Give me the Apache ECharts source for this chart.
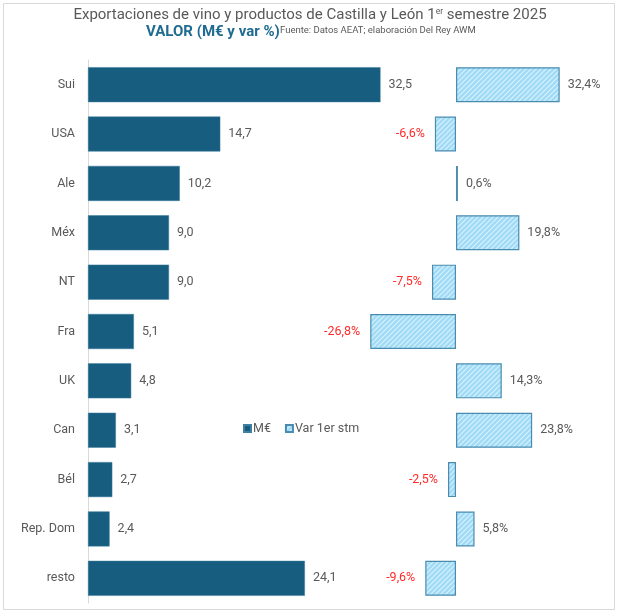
<!DOCTYPE html>
<html>
<head>
<meta charset="utf-8">
<script src="https://cdn.jsdelivr.net/npm/echarts@6/dist/echarts.min.js"></script>
<style>
html,body{margin:0;padding:0;background:#fff;}
#c{width:620px;height:614px;}
</style>
</head>
<body>
<div id="c"></div>
<script>
var categories = ['Sui','USA','Ale','Méx','NT','Fra','UK','Can','Bél','Rep. Dom','resto'];
var valorMEUR = [32.5,14.7,10.2,9.0,9.0,5.1,4.8,3.1,2.7,2.4,24.1];
var varPct = [32.4,-6.6,0.6,19.8,-7.5,-26.8,14.3,23.8,-2.5,5.8,-9.6];

var FONT = 'Roboto, "Open Sans", sans-serif';
var GRAY = '#595959';

function makePattern(){
  var s = 5;
  var cv = document.createElement('canvas');
  cv.width = s; cv.height = s;
  var ctx = cv.getContext('2d');
  ctx.fillStyle = '#9fdbf7';
  ctx.fillRect(0,0,s,s);
  ctx.strokeStyle = 'rgba(255,255,255,0.6)';
  ctx.lineWidth = 1.2;
  ctx.beginPath();
  ctx.moveTo(-1, s+1); ctx.lineTo(s+1, -1);
  ctx.moveTo(-s-1, s+1); ctx.lineTo(1, -1);
  ctx.moveTo(-1, 2*s+1); ctx.lineTo(s+1, s-1);
  ctx.moveTo(-s/2-1, s/2+1); ctx.lineTo(s/2+1, -s/2-1);
  ctx.moveTo(s/2-1, s*1.5+1); ctx.lineTo(s*1.5+1, s/2-1);
  ctx.stroke();
  return cv;
}
var pattern = {image: makePattern(), repeat: 'repeat'};

function fmt(v){ return v.toFixed(1).replace('.', ','); }

var varData = varPct.map(function(v){
  return {
    value: v,
    label: {
      position: v >= 0 ? 'right' : 'left',
      distance: v >= 0 ? 8 : 10,
      color: v >= 0 ? GRAY : '#ff2a2a'
    }
  };
});

var chart = echarts.init(document.getElementById('c'));
chart.setOption({
  animation: false,
  textStyle: {fontFamily: FONT},
  graphic: [
    {type:'rect', shape:{x:3.5,y:3.5,width:611,height:606}, style:{fill:'none', stroke:'#d9d9d9', lineWidth:1}, silent:true, z:-1},
    {type:'text', left:'center', top:7, style:{
      text:'Exportaciones de vino y productos de Castilla y León 1{sup|er} semestre 2025',
      rich:{sup:{fontSize:8.5, fill:GRAY, padding:[0,0,8,0], fontFamily:FONT}},
      font:'15px ' + FONT, fill:GRAY}},
    {type:'text', left:146, top:25, style:{text:'VALOR (M€ y var %)', font:'bold 15px ' + FONT, fill:'#1f6b91'}},
    {type:'text', left:280, top:26, style:{text:'Fuente: Datos AEAT; elaboración Del Rey AWM', font:'9.5px ' + FONT, fill:GRAY}}
  ],
  legend: {
    left: 243, top: 422, padding: 0,
    itemWidth: 7, itemHeight: 7, itemGap: 14,
    textStyle: {color: GRAY, fontSize: 12.5, fontFamily: FONT, padding:[0,0,0,-3]},
    data: [
      {name:'M€', icon:'rect'},
      {name:'Var 1er stm', icon:'rect'}
    ]
  },
  grid: [
    {left: 88, width: 360, top: 60, height: 543},
    {left: 328, width: 256, top: 60, height: 543}
  ],
  xAxis: [
    {gridIndex:0, type:'value', min:0, max:40, show:false},
    {gridIndex:1, type:'value', min:-40, max:40, show:false}
  ],
  yAxis: [
    {gridIndex:0, type:'category', data:categories, inverse:true,
      axisLine:{show:true, lineStyle:{color:'#d9d9d9', width:1}},
      axisTick:{show:false},
      axisLabel:{color:GRAY, fontSize:12.5, margin:13, fontFamily:FONT}},
    {gridIndex:1, type:'category', data:categories, inverse:true, show:false}
  ],
  series: [
    {
      name:'M€', type:'bar', xAxisIndex:0, yAxisIndex:0,
      data: valorMEUR, barWidth: 35,
      itemStyle:{color:'#175d7f', borderColor:'#3f7f9f', borderWidth:0.5},
      label:{show:true, position:'right', distance:8, color:GRAY, fontSize:12.5, fontFamily:FONT,
        formatter:function(p){return fmt(p.value);}}
    },
    {
      name:'Var 1er stm', type:'bar', xAxisIndex:1, yAxisIndex:1,
      data: varData, barWidth: 35,
      itemStyle:{color: pattern, borderColor:'#4a8cb0', borderWidth:1.2},
      label:{show:true, fontSize:12.5, fontFamily:FONT,
        formatter:function(p){return fmt(p.value) + '%';}}
    }
  ]
});
</script>
</body>
</html>
